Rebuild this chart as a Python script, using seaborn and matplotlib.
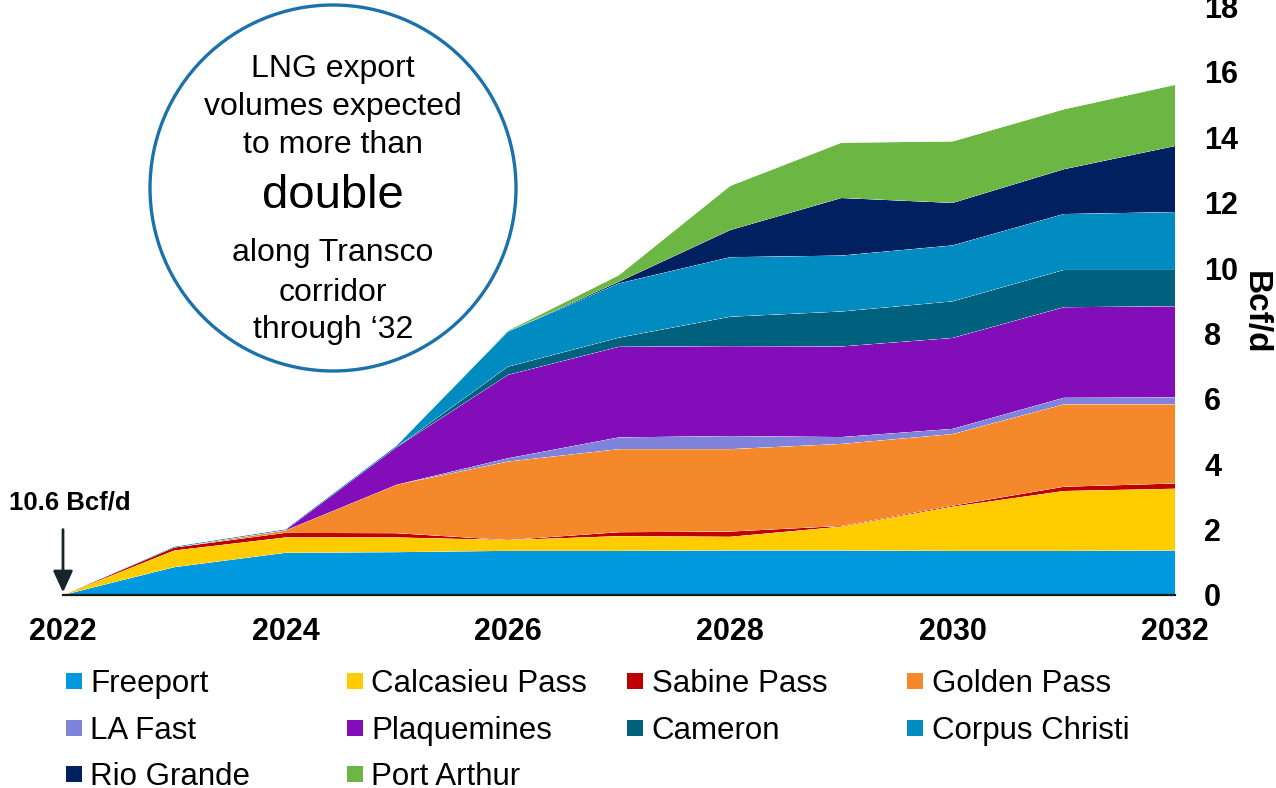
import numpy as np
import pandas as pd
import matplotlib
matplotlib.use("Agg")
import matplotlib.pyplot as plt
from matplotlib.patches import Ellipse, Rectangle
import seaborn as sns
import seaborn.objects as so

# ---------------- data (incremental Bcf/d over 10.6 Bcf/d in 2022) ----------------
years = [2022, 2023, 2024, 2025, 2026, 2027, 2028, 2029, 2030, 2031, 2032]
sites = ["Freeport", "Calcasieu Pass", "Sabine Pass", "Golden Pass", "LA Fast",
         "Plaquemines", "Cameron", "Corpus Christi", "Rio Grande", "Port Arthur"]
freeport = [0, 0.85, 1.29, 1.31, 1.35, 1.35, 1.36, 1.36, 1.35, 1.35, 1.36]
calcasieu = [0, 0.51, 0.47, 0.45, 0.33, 0.45, 0.42, 0.73, 1.35, 1.83, 1.89]
sabine = [0, 0.09, 0.14, 0.13, 0.00, 0.12, 0.16, 0.02, 0.03, 0.13, 0.16]
golden_pass = [0, 0.00, 0.07, 1.48, 2.40, 2.54, 2.52, 2.51, 2.19, 2.52, 2.42]
la_fast = [0, 0.00, 0.00, 0.00, 0.10, 0.36, 0.40, 0.21, 0.16, 0.20, 0.21]
plaquemines = [0, 0.00, 0.01, 1.15, 2.55, 2.77, 2.75, 2.77, 2.78, 2.77, 2.79]
cameron = [0, 0.00, 0.00, 0.00, 0.25, 0.28, 0.90, 1.07, 1.12, 1.14, 1.11]
corpus_christi = [0, 0.03, 0.03, 0.05, 1.07, 1.66, 1.82, 1.71, 1.71, 1.71, 1.77]
rio_grande = [0, 0.00, 0.00, 0.00, 0.00, 0.05, 0.83, 1.76, 1.30, 1.37, 2.02]
port_arthur = [0, 0.00, 0.00, 0.00, 0.03, 0.20, 1.35, 1.69, 1.88, 1.83, 1.87]
series = [freeport, calcasieu, sabine, golden_pass, la_fast,
          plaquemines, cameron, corpus_christi, rio_grande, port_arthur]
colors = ["#0099E0", "#FFCC00", "#C00000", "#F5882A", "#8083DC",
          "#820DB9", "#00617F", "#008CC1", "#002060", "#6CB643"]
xtick_values = [2022, 2024, 2026, 2028, 2030, 2032]
xtick_labels = ["2022", "2024", "2026", "2028", "2030", "2032"]
ytick_values = [0, 2, 4, 6, 8, 10, 12, 14, 16, 18]
ytick_labels = ["0", "2", "4", "6", "8", "10", "12", "14", "16", "18"]
y_label = "Bcf/d"
start_note = "10.6 Bcf/d"
circle_lines = ["LNG export", "volumes expected", "to more than", "double",
                "along Transco", "corridor", "through \u201832"]

# long-format table for seaborn
rows = []
for name, vals in zip(sites, series):
    for yr, v in zip(years, vals):
        rows.append({"year": yr, "site": name, "value": v})
df = pd.DataFrame(rows)
palette = dict(zip(sites, colors))

# ---------------- style ----------------
sns.set_theme(style="white")
FONT = ["Liberation Sans", "DejaVu Sans"]
plt.rcParams["font.family"] = FONT
plt.rcParams["text.color"] = "black"

W, H = 1276, 788
def fx(x):
    return x / W
def fy(y):
    return 1 - y / H

fig = plt.figure(figsize=(W / 100, H / 100), dpi=100)
ax = fig.add_axes([fx(63), fy(595), (1175 - 63) / W, (595 - 6.4) / H])

theme = sns.axes_style("white") | {"font.family": FONT, "text.color": "black"}
(
    so.Plot(df, x="year", y="value", color="site")
    .add(so.Area(alpha=1, edgewidth=0), so.Stack(), legend=False)
    .scale(color=so.Nominal(palette, order=sites))
    .theme(theme)
    .on(ax)
    .plot()
)

ax.set_xlim(2022, 2032)
ax.set_ylim(0, 18)
ax.set_xlabel("")
ax.set_ylabel("")
ax.grid(False)
ax.set_facecolor("white")
ax.yaxis.tick_right()
ax.set_xticks(xtick_values)
ax.set_xticklabels(xtick_labels, fontsize=22, fontweight="bold", color="black")
ax.set_yticks(ytick_values)
ax.set_yticklabels(ytick_labels, fontsize=22, fontweight="bold", color="black")
ax.tick_params(axis="x", length=0, pad=16)
ax.tick_params(axis="y", length=0, pad=21, left=False, right=False,
               labelleft=False, labelright=True)
for s in ["top", "left", "right"]:
    ax.spines[s].set_visible(False)
ax.spines["bottom"].set_color("#1a1a1a")
ax.spines["bottom"].set_linewidth(1.6)
ax.spines["bottom"].set_zorder(5)

fig.text(fx(1255), fy(313), y_label, rotation=-90, fontsize=24,
         fontweight="bold", ha="center", va="center", color="black")

# start annotation
ax.annotate("", xy=(2022, 0.08), xytext=(2022, 2.0),
            arrowprops=dict(arrowstyle="-|>,head_length=0.65,head_width=0.3",
                            mutation_scale=20, color="#17252b", lw=2,
                            shrinkA=0, shrinkB=0),
            annotation_clip=False)
fig.text(fx(70), fy(510), start_note, fontsize=18.5, fontweight="bold",
         ha="center", va="baseline", color="black")

# circle call-out
circ = Ellipse((fx(333), fy(188)), 366 / W, 366 / H, transform=fig.transFigure,
               facecolor="white", edgecolor="#1B72AA", linewidth=2.4, zorder=3)
fig.add_artist(circ)
baselines = [77.3, 115, 153.3, 208.3, 260.7, 300.7, 337.7]
for line, b in zip(circle_lines, baselines):
    fig.text(fx(333), fy(b), line, fontsize=34 if line == "double" else 23,
             ha="center", va="baseline", color="black", zorder=4)

# legend (manual grid)
col_x = [66, 346.5, 627, 907]
row_top = [673, 720, 766]
for i, (name, c) in enumerate(zip(sites, colors)):
    r, k = divmod(i, 4)
    x0, y0 = col_x[k], row_top[r]
    fig.add_artist(Rectangle((fx(x0), fy(y0 + 16)), 16 / W, 16 / H,
                             transform=fig.transFigure, facecolor=c,
                             edgecolor="none"))
    fig.text(fx(x0 + 24.5), fy(y0 + 18.7), name, fontsize=22.5,
             ha="left", va="baseline", color="black")

fig.savefig("out.png", dpi=100)
